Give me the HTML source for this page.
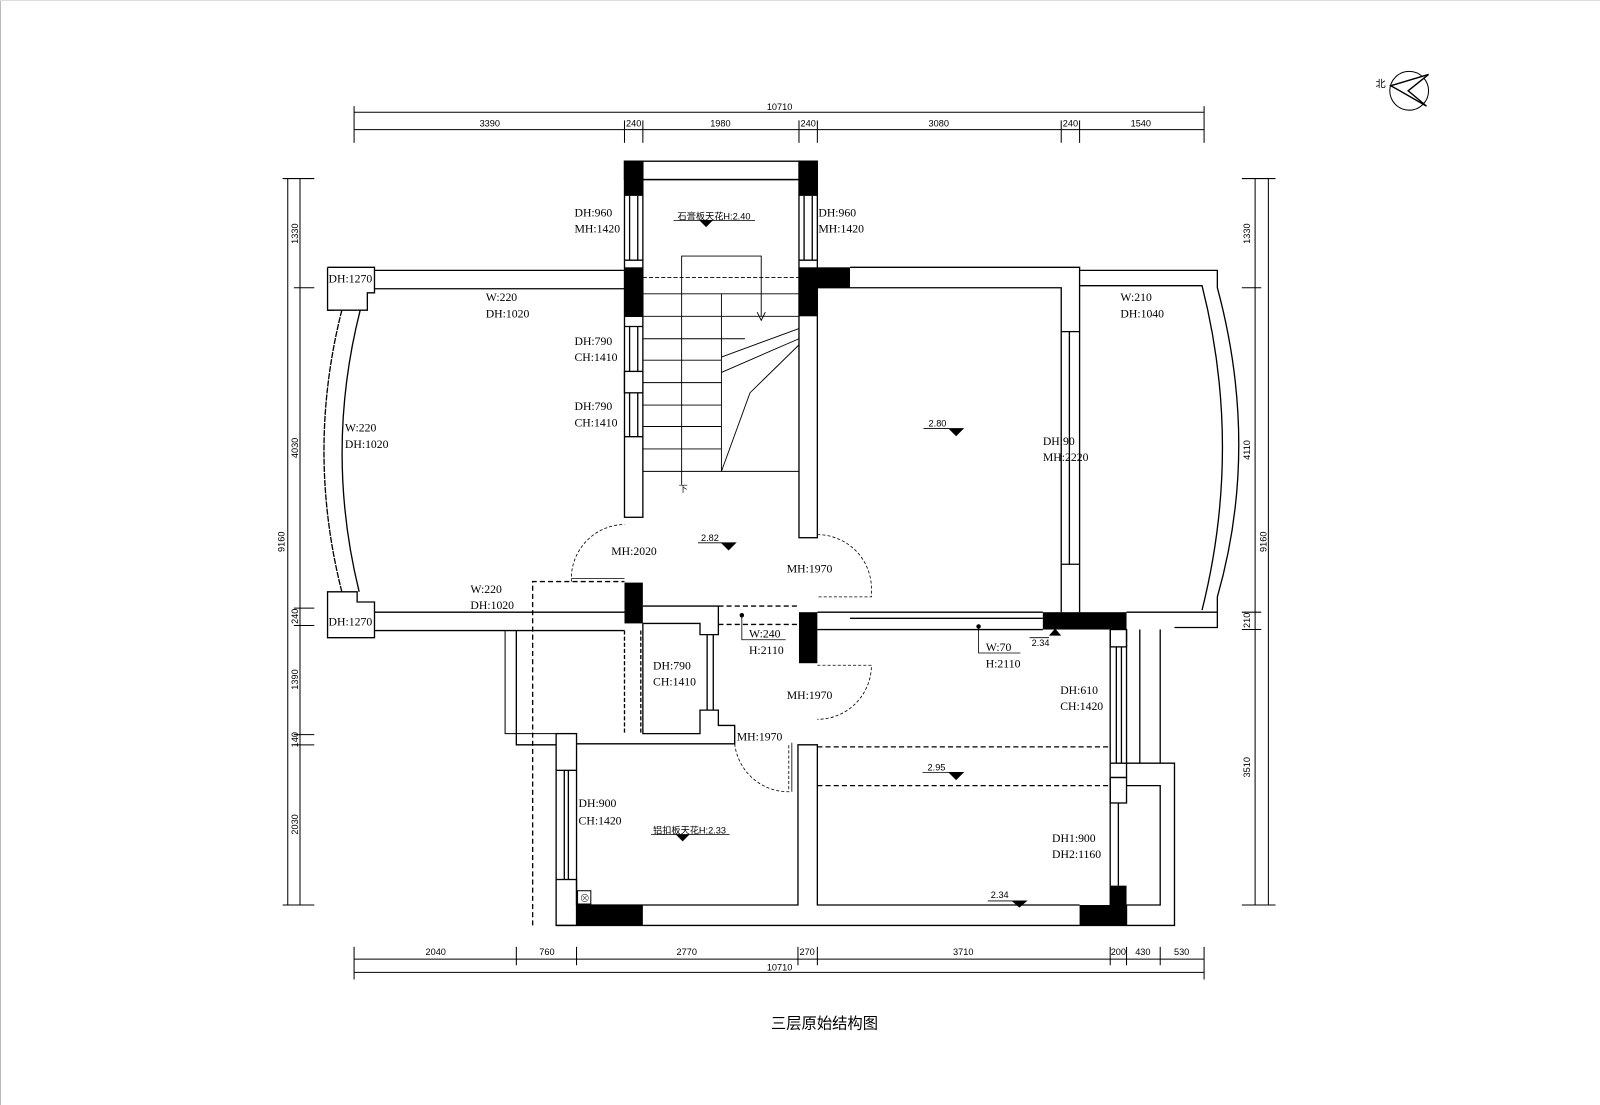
<!DOCTYPE html>
<html><head><meta charset="utf-8"><style>
html,body{margin:0;padding:0;background:#fff;}
svg{display:block;}
text{font-family:"Liberation Serif","Noto Serif CJK SC",serif;fill:#000;}
.s{font-family:"Liberation Sans","Noto Sans CJK SC",sans-serif;}
</style></head><body>
<svg width="1600" height="1105" viewBox="0 0 1568 1083" preserveAspectRatio="none" xmlns="http://www.w3.org/2000/svg">
<rect x="0" y="0" width="1568" height="1083" fill="#fff"/>
<line x1="0.5" y1="0" x2="0.5" y2="1083" stroke="#bbb" stroke-width="1"/>
<line x1="0" y1="0.5" x2="1568" y2="0.5" stroke="#ddd" stroke-width="1"/>
<g stroke="#000" stroke-width="1" fill="none">
<line x1="347" y1="110" x2="1180" y2="110"/>
<line x1="347" y1="127" x2="1180" y2="127"/>
<g>
<line x1="347" y1="104" x2="347" y2="140"/><line x1="1180" y1="104" x2="1180" y2="140"/>
<line x1="612" y1="118" x2="612" y2="140"/><line x1="630" y1="118" x2="630" y2="140"/>
<line x1="783" y1="118" x2="783" y2="140"/><line x1="801" y1="118" x2="801" y2="140"/>
<line x1="1040" y1="118" x2="1040" y2="140"/><line x1="1058" y1="118" x2="1058" y2="140"/>
</g>
<line x1="347" y1="940" x2="1180" y2="940"/>
<line x1="347" y1="953" x2="1180" y2="953"/>
<g>
<line x1="347" y1="928" x2="347" y2="960"/><line x1="1180" y1="928" x2="1180" y2="960"/>
<line x1="506" y1="928" x2="506" y2="946"/><line x1="565" y1="928" x2="565" y2="946"/>
<line x1="782" y1="928" x2="782" y2="946"/><line x1="801" y1="928" x2="801" y2="946"/>
<line x1="1088" y1="928" x2="1088" y2="946"/><line x1="1104" y1="928" x2="1104" y2="946"/>
<line x1="1137" y1="928" x2="1137" y2="946"/>
</g>
<line x1="282" y1="175" x2="282" y2="887"/>
<line x1="294" y1="175" x2="294" y2="887"/>
<g>
<line x1="277" y1="175" x2="308" y2="175"/><line x1="277" y1="887" x2="308" y2="887"/>
<line x1="288" y1="282" x2="308" y2="282"/><line x1="288" y1="596" x2="308" y2="596"/>
<line x1="288" y1="613" x2="308" y2="613"/><line x1="288" y1="720" x2="308" y2="720"/>
<line x1="288" y1="730" x2="308" y2="730"/>
</g>
<line x1="1230" y1="175" x2="1230" y2="887"/>
<line x1="1243" y1="175" x2="1243" y2="887"/>
<g>
<line x1="1217" y1="175" x2="1250" y2="175"/><line x1="1217" y1="887" x2="1250" y2="887"/>
<line x1="1217" y1="282" x2="1236" y2="282"/><line x1="1217" y1="600" x2="1236" y2="600"/>
<line x1="1217" y1="617" x2="1236" y2="617"/>
</g>
</g>
<g font-size="9" class="s" text-anchor="middle">
<text x="764" y="108" class="s">10710</text>
<text x="480" y="124" class="s">3390</text><text x="621" y="124" class="s">240</text>
<text x="706" y="124" class="s">1980</text><text x="792" y="124" class="s">240</text>
<text x="920" y="124" class="s">3080</text><text x="1049" y="124" class="s">240</text>
<text x="1118" y="124" class="s">1540</text>
<text x="427" y="936" class="s">2040</text><text x="536" y="936" class="s">760</text>
<text x="673" y="936" class="s">2770</text><text x="791" y="936" class="s">270</text>
<text x="944" y="936" class="s">3710</text><text x="1096" y="936" class="s">200</text>
<text x="1120" y="936" class="s">430</text><text x="1158" y="936" class="s">530</text>
<text x="764" y="951" class="s">10710</text>
</g>
<g font-size="9" class="s" text-anchor="middle">
<text transform="translate(292,229) rotate(-90)" class="s">1330</text>
<text transform="translate(292,439) rotate(-90)" class="s">4030</text>
<text transform="translate(292,604) rotate(-90)" class="s">240</text>
<text transform="translate(292,666) rotate(-90)" class="s">1390</text>
<text transform="translate(292,725) rotate(-90)" class="s">140</text>
<text transform="translate(292,808) rotate(-90)" class="s">2030</text>
<text transform="translate(279,531) rotate(-90)" class="s">9160</text>
<text transform="translate(1225,229) rotate(-90)" class="s">1330</text>
<text transform="translate(1225,441) rotate(-90)" class="s">4110</text>
<text transform="translate(1225,608) rotate(-90)" class="s">210</text>
<text transform="translate(1225,752) rotate(-90)" class="s">3510</text>
<text transform="translate(1241,531) rotate(-90)" class="s">9160</text>
</g>

<g stroke="#000" stroke-width="1.3" fill="none">
<rect x="612" y="158" width="189" height="18"/>
<line x1="630" y1="176" x2="783" y2="176"/>
<rect x="612" y="158" width="18" height="349"/>
<rect x="783" y="158" width="18" height="369"/>
<line x1="617" y1="192" x2="617" y2="255"/><line x1="625" y1="192" x2="625" y2="255"/>
<line x1="788" y1="192" x2="788" y2="255"/><line x1="796" y1="192" x2="796" y2="255"/>
<line x1="617" y1="320" x2="617" y2="428"/><line x1="625" y1="320" x2="625" y2="428"/>
<rect x="612" y="364" width="18" height="21" fill="#fff"/>
<line x1="612" y1="320" x2="630" y2="320"/><line x1="612" y1="428" x2="630" y2="428"/>
<line x1="612" y1="255" x2="630" y2="255"/><line x1="612" y1="310" x2="630" y2="310"/>
<line x1="783" y1="255" x2="801" y2="255"/>
<line x1="367" y1="265" x2="612" y2="265"/><line x1="367" y1="283" x2="612" y2="283"/>
<line x1="367" y1="600" x2="612" y2="600"/><line x1="367" y1="618" x2="612" y2="618"/>
<path d="M321,262 H367 V287 H360 V304 H350"/>
<path d="M327,304 H321 V262"/><line x1="321" y1="304" x2="350" y2="304"/>
<path d="M321,580 H350 V590 H367 V625 H321 Z"/>
<path d="M335,304 Q300,442 335,580" stroke-dasharray="6,1"/>
<path d="M353,304 Q318,442 352,580"/>
<path d="M801,282 H1040 V600"/>
<path d="M833,262 H1058 V600"/>
<line x1="1040" y1="325" x2="1058" y2="325"/><line x1="1040" y1="553" x2="1058" y2="553"/>
<line x1="1048" y1="325" x2="1048" y2="553"/>
<path d="M1058,265 H1193 V282 Q1235,438 1193,585 V600"/>
<path d="M1058,280 H1178 Q1218,438 1178,598"/>
<path d="M1104,600 H1193 V615 H1151"/>
<line x1="801" y1="600" x2="1022" y2="600"/>
<line x1="801" y1="617" x2="1022" y2="617"/>
<line x1="833" y1="606" x2="1022" y2="606"/>
<line x1="630" y1="594" x2="704" y2="594"/>
<path d="M630,611 H686 V622 H704 V594"/>
<path d="M630,611 V719 H686 V696 H704 V711 H720 V729 H565"/>
<line x1="693" y1="622" x2="693" y2="696"/><line x1="699" y1="622" x2="699" y2="696"/>
<line x1="704" y1="594" x2="783" y2="594" stroke-dasharray="5,3"/>
<line x1="704" y1="612" x2="783" y2="612" stroke-dasharray="5,3"/>
<rect x="545" y="719" width="20" height="36"/>
<rect x="545" y="862" width="20" height="45"/>
<line x1="545" y1="755" x2="545" y2="862"/><line x1="565" y1="755" x2="565" y2="887"/>
<line x1="553" y1="755" x2="553" y2="862"/><line x1="557" y1="755" x2="557" y2="862"/>
<path d="M565,887 H782 V730 H801 V887 H1058"/>
<line x1="545" y1="907" x2="1104" y2="907"/>
<path d="M522,907 V570 H612" stroke-dasharray="5,3"/>
<path d="M506,618 V730 H545"/>
<path d="M495,618 V719 H545" stroke-width="1"/>
<line x1="612" y1="618" x2="612" y2="719" stroke-dasharray="4,2"/>
<line x1="628" y1="618" x2="628" y2="719" stroke-dasharray="4,2"/>
<path d="M560,570 A53,53 0 0 1 612,514" stroke-width="0.8" stroke-dasharray="3,2"/>
<line x1="560" y1="567" x2="612" y2="567" stroke-width="0.8"/>
<path d="M801,524 A53,53 0 0 1 854,577 V585 H801" stroke-width="0.8" stroke-dasharray="3,2"/>
<path d="M801,652 H854 A53,53 0 0 1 801,705" stroke-width="0.8" stroke-dasharray="3,2"/>
<path d="M720,729 A53,53 0 0 0 773,776 V729" stroke-width="0.8" stroke-dasharray="3,2"/>
<line x1="776" y1="728" x2="776" y2="776" stroke-width="0.8"/>
<line x1="801" y1="732" x2="1088" y2="732" stroke-dasharray="5,3"/>
<line x1="801" y1="770" x2="1088" y2="770" stroke-dasharray="5,3"/>
<path d="M1088,617 V887"/><path d="M1104,617 V748 H1151 V907 H1104 V887"/>
<rect x="1088" y="617" width="16" height="17"/>
<line x1="1094" y1="634" x2="1094" y2="748"/><line x1="1099" y1="634" x2="1099" y2="748"/>
<path d="M1088,748 H1104 V762 H1088"/>
<path d="M1104,770 H1137 V887 H1104"/>
<rect x="1088" y="762" width="16" height="25"/>
<line x1="1096" y1="787" x2="1096" y2="868"/>
<line x1="1117" y1="617" x2="1117" y2="748"/><line x1="1137" y1="617" x2="1137" y2="748"/>
<g stroke-width="0.9">
<line x1="630" y1="272" x2="783" y2="272" stroke-dasharray="4,2"/>
<line x1="630" y1="288" x2="783" y2="288"/>
<line x1="630" y1="310" x2="783" y2="310"/>
<line x1="630" y1="332" x2="730" y2="332"/>
<line x1="630" y1="353" x2="707" y2="353"/>
<line x1="630" y1="375" x2="707" y2="375"/>
<line x1="630" y1="397" x2="707" y2="397"/>
<line x1="630" y1="418" x2="707" y2="418"/>
<line x1="630" y1="440" x2="707" y2="440"/>
<line x1="630" y1="462" x2="783" y2="462"/>
<line x1="707" y1="288" x2="707" y2="462"/>
<path d="M668,475 V251 H746 V310"/>
<path d="M742,306 L746,314 L750,306"/>
<line x1="707" y1="365" x2="783" y2="332"/>
<line x1="707" y1="350" x2="783" y2="322"/>
<path d="M783,338 L735,385 L707,462"/>
</g>
</g>
<g fill="#000">
<rect x="612" y="158" width="18" height="34"/><rect x="783" y="158" width="18" height="34"/>
<rect x="612" y="262" width="18" height="48"/><rect x="783" y="262" width="18" height="48"/>
<rect x="801" y="262" width="32" height="20"/>
<rect x="612" y="571" width="18" height="40"/>
<rect x="783" y="600" width="18" height="50"/>
<rect x="1022" y="600" width="82" height="17"/>
<rect x="565" y="887" width="65" height="20"/>
<rect x="1058" y="887" width="46" height="20"/>
<rect x="1088" y="868" width="16" height="20"/>
<path d="M1028,623 L1034,616 L1040,623 Z"/>
</g>
<rect x="566" y="873" width="13" height="13" fill="none" stroke="#000"/>
<text x="568" y="884" font-size="10">⊗</text>
<g stroke="#000" stroke-width="0.8">
<line x1="660" y1="216" x2="740" y2="216"/><path d="M686,216 L698,216 L692,222 Z" fill="#000"/>
<line x1="905" y1="420" x2="930" y2="420"/><path d="M930,420 L944,420 L937,427 Z" fill="#000"/>
<line x1="684" y1="532" x2="707" y2="532"/><path d="M707,532 L721,532 L714,539 Z" fill="#000"/>
<line x1="904" y1="757" x2="930" y2="757"/><path d="M930,757 L944,757 L937,764 Z" fill="#000"/>
<line x1="968" y1="883" x2="992" y2="883"/><path d="M992,883 L1006,883 L999,889 Z" fill="#000"/>
<line x1="638" y1="818" x2="715" y2="818"/><path d="M663,818 L675,818 L669,824 Z" fill="#000"/>
<line x1="1009" y1="625" x2="1028" y2="625"/>
<path d="M727,603 V627 H770" fill="none"/><circle cx="727" cy="603" r="1.8" fill="#000"/>
<path d="M959,614 V640 H1000" fill="none"/><circle cx="959" cy="614" r="1.8" fill="#000"/>
</g>
<g font-size="11.5">
<text x="563" y="212">DH:960</text><text x="563" y="228">MH:1420</text>
<text x="802" y="212">DH:960</text><text x="802" y="228">MH:1420</text>
<text x="563" y="338">DH:790</text><text x="563" y="354">CH:1410</text>
<text x="563" y="402">DH:790</text><text x="563" y="418">CH:1410</text>
<text x="322" y="277">DH:1270</text><text x="322" y="613">DH:1270</text>
<text x="476" y="295">W:220</text><text x="476" y="311">DH:1020</text>
<text x="338" y="423">W:220</text><text x="338" y="439">DH:1020</text>
<text x="461" y="581">W:220</text><text x="461" y="597">DH:1020</text>
<text x="1098" y="295">W:210</text><text x="1098" y="311">DH:1040</text>
<text x="1022" y="436">DH:90</text><text x="1022" y="452">MH:2220</text>
<text x="599" y="544">MH:2020</text>
<text x="771" y="561">MH:1970</text>
<text x="771" y="685">MH:1970</text>
<text x="722" y="726">MH:1970</text>
<text x="734" y="625">W:240</text><text x="734" y="641">H:2110</text>
<text x="966" y="638">W:70</text><text x="966" y="654">H:2110</text>
<text x="640" y="656">DH:790</text><text x="640" y="672">CH:1410</text>
<text x="1039" y="680">DH:610</text><text x="1039" y="696">CH:1420</text>
<text x="567" y="791">DH:900</text><text x="567" y="808">CH:1420</text>
<text x="1031" y="825">DH1:900</text><text x="1031" y="841">DH2:1160</text>
</g>
<g font-size="9" class="s">
<text x="664" y="215" class="s">石膏板天花H:2.40</text>
<text x="910" y="418" class="s">2.80</text>
<text x="687" y="530" class="s">2.82</text>
<text x="909" y="755" class="s">2.95</text>
<text x="971" y="880" class="s">2.34</text>
<text x="1011" y="633" class="s">2.34</text>
<text x="640" y="817" class="s">铝扣板天花H:2.33</text>
<text x="665" y="482" class="s">下</text>
</g>
<circle cx="1381" cy="89" r="19" fill="none" stroke="#000" stroke-width="1"/>
<path d="M1363,84 L1400,73 L1380,89 L1398,104 Z" fill="#fff" stroke="#000" stroke-width="1.4"/>
<text x="1348" y="86" font-size="10" class="s">北</text>
<text x="808" y="1008" font-size="15" text-anchor="middle" class="s">三层原始结构图</text>
</svg>
</body></html>
